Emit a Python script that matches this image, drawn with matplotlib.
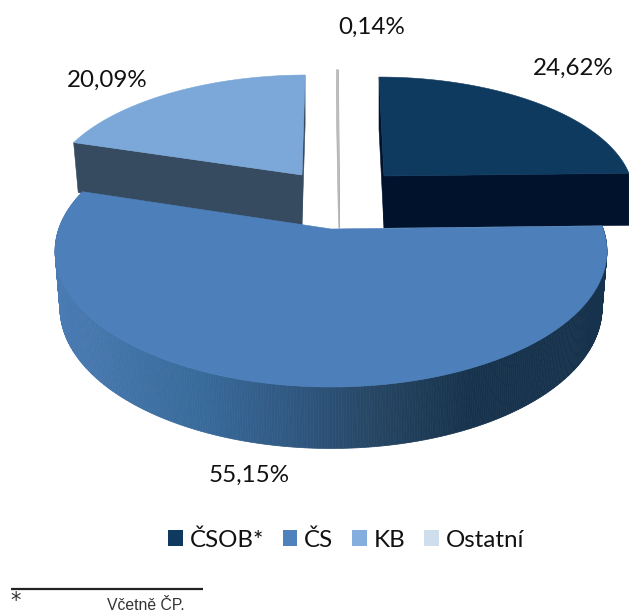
import numpy as np
import matplotlib
matplotlib.use("Agg")
import matplotlib.pyplot as plt
from matplotlib.patches import Polygon, Patch
from matplotlib.colors import to_rgb

categories = ["ČSOB*", "ČS", "KB", "Ostatní"]
values = [24.62, 55.15, 20.09, 0.14]
legend_colors = ["#0f3a60", "#4f81bd", "#84aede", "#cfdeed"]

plt.rcParams['font.family'] = ['Lato', 'DejaVu Sans']

W, H = 629, 614
fig = plt.figure(figsize=(W / 100, H / 100), dpi=100)
ax = fig.add_axes([0, 0, 1, 1])
ax.set_xlim(0, W)
ax.set_ylim(H, 0)
ax.axis("off")

# slice angular extents, clockwise from 12 o'clock
edges = np.concatenate([[0], np.cumsum(values)]) / sum(values) * 2 * np.pi


def rim(theta, g):
    X, Y = np.sin(theta), np.cos(theta)
    d = 1 + g["k"] * Y
    return (g["cx"] + g["A"] * X / d + g["s"] * Y, g["cy"] - g["B"] * Y / d)


def flat_slice(i, top, bot, top_color, front_color, zorder):
    """Slice whose rear half only is seen: top face + straight front cut faces."""
    th = np.linspace(edges[i], edges[i + 1], 120)
    xt, yt = rim(th, top)
    xs = np.r_[top["cx"], xt]
    ys = np.r_[top["cy"], yt]
    for t in (edges[i], edges[i + 1]):
        xa, ya = rim(np.array([t]), top)
        xb, yb = rim(np.array([t]), bot)
        ax.add_patch(Polygon([(top["cx"], top["cy"]), (xa[0], ya[0]), (xb[0], yb[0]),
                              (bot["cx"], bot["cy"])], closed=True, fc=front_color,
                             ec=front_color, lw=0.4, zorder=zorder))
    ax.add_patch(Polygon(np.c_[xs, ys], closed=True, fc=top_color, ec=top_color,
                         lw=0.4, zorder=zorder + 0.1))


# --- ČSOB
g_top = dict(cx=384, cy=176, A=246, B=113.5, k=0.147, s=-5)
g_bot = dict(cx=384, cy=228, A=246, B=113.5, k=0.147, s=-5)
flat_slice(0, g_top, g_bot, "#0f3a60", "#00122c", 2)

# --- KB
g_top = dict(cx=302, cy=175, A=251, B=114.7, k=0.147, s=5)
g_bot = dict(cx=302, cy=225, A=246, B=114.7, k=0.147, s=5)
flat_slice(2, g_top, g_bot, "#7ba7d9", "#364b60", 2)

# --- Ostatní
g_top = dict(cx=338.5, cy=176, A=250, B=122, k=0.147, s=0)
g_bot = dict(cx=338.5, cy=228, A=250, B=122, k=0.147, s=0)
flat_slice(3, g_top, g_bot, "#bdbdbd", "#b0b0b0", 2)

# --- ČS: top face + shaded outer wall
g_top = dict(cx=331, cy=229, A=272.3, B=132.4, k=0.162, s=0)
g_bot = dict(cx=331, cy=285, A=267.5, B=137, k=0.162, s=0)
stops_x = [55, 200, 300, 380, 470, 600]
stops_c = [to_rgb(c) for c in ["#4a7bb3", "#386a9b", "#2f567f", "#254562", "#17324c", "#17324c"]]
th = np.linspace(edges[1], edges[2], 400)
xt, yt = rim(th, g_top)
xb, yb = rim(th, g_bot)
for j in range(len(th) - 1):
    xm = (xt[j] + xt[j + 1]) / 2
    col = [np.interp(xm, stops_x, [c[n] for c in stops_c]) for n in range(3)]
    ax.add_patch(Polygon([(xt[j], yt[j]), (xt[j + 1], yt[j + 1]), (xb[j + 1], yb[j + 1]), (xb[j], yb[j])],
                         closed=True, fc=col, ec=col, lw=0.5, zorder=3))
ax.add_patch(Polygon(np.c_[np.r_[g_top["cx"], xt], np.r_[g_top["cy"], yt]], closed=True,
                     fc="#4d80bb", ec="#4d80bb", lw=0.4, zorder=4))

# --- value labels
label_pos = [(573, 68.5), (249, 475.5), (107, 80.5), (372, 27.5)]
for v, (x, y) in zip(values, label_pos):
    ax.text(x, y, f"{v:.2f}".replace(".", ",") + "%", ha="center", va="center",
            fontsize=17.4, color="#111111", zorder=6)

# --- legend
handles = [Patch(fc=c, ec="none") for c in legend_colors]
ax.legend(handles, categories, loc="center", bbox_to_anchor=(346 / W, 1 - 540 / H),
          ncol=4, frameon=False, fontsize=17.4, handlelength=0.62, handleheight=0.62,
          handletextpad=0.28, columnspacing=0.77, labelcolor="#111111")

# --- footnote
ax.plot([11, 203], [588.5, 588.5], color="#222222", lw=1.6, solid_capstyle="butt", zorder=6)
ax.text(15.5, 601, "*", ha="center", va="center", fontsize=15, family="DejaVu Sans", color="#333333")
ax.text(146, 606, "Včetně ČP.", ha="center", va="center", fontsize=11.3,
        family="Liberation Sans", color="#333333")

fig.savefig("out.png", dpi=100)
